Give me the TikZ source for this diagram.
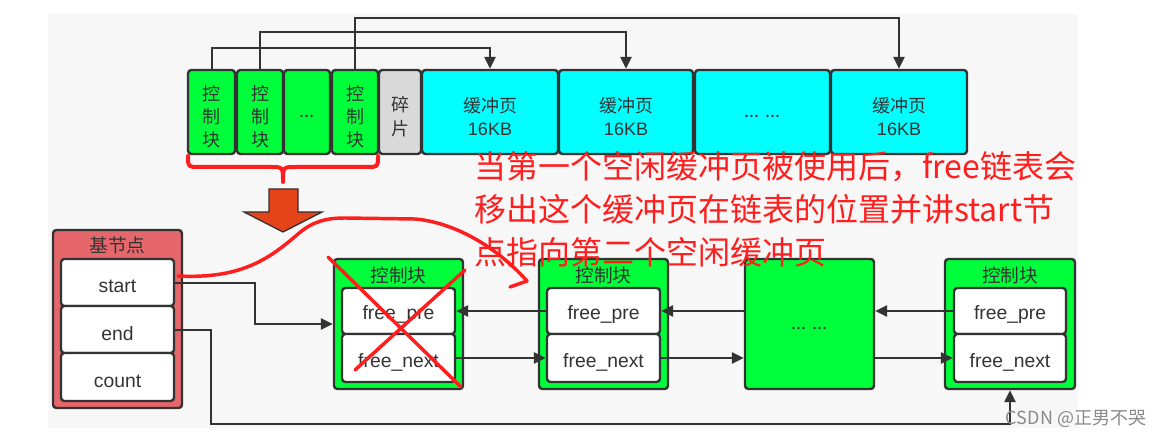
\documentclass[tikz,border=0pt]{standalone}
\usepackage{fontspec}
\setmainfont{Noto Sans CJK SC}
\newfontfamily\lat{Liberation Sans}
\usetikzlibrary{arrows.meta,calc}
\definecolor{bgc}{HTML}{F7F7F7}
\definecolor{gr}{HTML}{00FF3B}
\definecolor{cy}{HTML}{00FFFF}
\definecolor{frag}{HTML}{D9D9D9}
\definecolor{basec}{HTML}{E5676B}
\definecolor{ln}{HTML}{333333}
\definecolor{txt}{HTML}{333333}
\definecolor{ann}{HTML}{FF1E1E}
\definecolor{org}{HTML}{E5441A}
\definecolor{wm}{HTML}{8A8A8A}
\tikzset{
  sz/.style 2 args={minimum width=#1*0.75pt, minimum height=#2*0.75pt},
  blk/.style={draw=ln, line width=1.8pt, rounded corners=2.5pt, inner sep=0pt},
  lbl/.style={inner sep=0pt, align=center, text=txt, font=\fontsize{13.5}{17.4}\selectfont},
  txt/.style={label={[lbl, yshift=-3.5pt]center:{#1}}},
  ftxt/.style={label={[lbl, yshift=-3pt, font=\lat\fontsize{14.5}{17}\selectfont]center:{#1}}},
  field/.style={blk, fill=white},
  ttl/.style={inner sep=0pt, text=txt, font=\fontsize{14}{17}\selectfont},
  arr/.style={draw=ln, line width=1.5pt, -{Triangle[length=9pt,width=8.5pt]}},
  redpen/.style={draw=ann, line width=2.6pt, line cap=round, line join=round},
  anntext/.style={inner sep=0pt, anchor=base west, text=ann, font=\fontsize{24}{30}\selectfont}
}
\begin{document}
\begin{tikzpicture}[x=0.75pt,y=-0.75pt]
\useasboundingbox (0,0) rectangle (1159,438);
\fill[bgc] (48,14) rectangle (1078,428);

% top row
\node[blk, fill=gr, sz={47}{84}, txt={控\\制\\块}] (cb1) at (211.5,112) {};
\node[blk, fill=gr, sz={46}{84}, txt={控\\制\\块}] (cb2) at (260,112) {};
\node[blk, fill=gr, sz={46}{84}, txt={...}] (cbd) at (307,112) {};
\node[blk, fill=gr, sz={46}{84}, txt={控\\制\\块}] (cb4) at (355,112) {};
\node[blk, fill=frag, sz={42}{84}, txt={碎\\片}] (frag) at (400,112) {};
\node[blk, fill=cy, sz={136}{84}, txt={缓冲页\\{\lat 16KB}}] (p1) at (490,112) {};
\node[blk, fill=cy, sz={134}{84}, txt={缓冲页\\{\lat 16KB}}] (p2) at (626,112) {};
\node[blk, fill=cy, sz={135}{84}, txt={... ...}] (pd) at (762.5,112) {};
\node[blk, fill=cy, sz={136}{84}, txt={缓冲页\\{\lat 16KB}}] (p4) at (899,112) {};

\draw[arr] (cb1.north) -- ++(0,-21) -| (p1.north);
\draw[arr] (cb2.north) -- ++(0,-37) -| (p2.north);
\draw[arr] (cb4.north) -- ++(0,-51) -| (p4.north);

% brace
\draw[redpen, line width=3pt] (188,156) .. controls (188,167) .. (199,167) -- (271,167)
  .. controls (283,167) .. (283,182) .. controls (283,167) .. (295,167) -- (367,167)
  .. controls (378,167) .. (378,156);

% block arrow
\draw[draw=ln, line width=1pt, fill=org, line join=miter] (269,189) -- (298,189) -- (298,212) -- (322,212)
  -- (283,232) -- (244,212) -- (269,212) -- cycle;

% base node
\node[blk, fill=basec, sz={129}{178}] (base) at (117.5,319) {};
\node[ttl] (baset) at (117.5,245.5) {基节点};
\node[field, sz={113}{47}, ftxt={start}] (start) at (117.5,282.5) {};
\node[field, sz={113}{47}, ftxt={end}] (endn) at (117.5,329.5) {};
\node[field, sz={113}{48}, ftxt={count}] (count) at (117.5,377) {};

% control blocks
\node[blk, fill=gr, sz={129}{130}] (cbA) at (398.5,324) {};
\node[ttl] (tA) at (398.5,275.5) {控制块};
\node[field, sz={113}{46}, ftxt={free\_pre}] (preA) at (398.5,311) {};
\node[field, sz={113}{48}, ftxt={free\_next}] (nextA) at (398.5,358) {};

\node[blk, fill=gr, sz={129}{130}] (cbB) at (603.5,324) {};
\node[ttl] (tB) at (603.5,275.5) {控制块};
\node[field, sz={113}{46}, ftxt={free\_pre}] (preB) at (603.5,311) {};
\node[field, sz={113}{48}, ftxt={free\_next}] (nextB) at (603.5,358) {};

\node[blk, fill=gr, sz={129}{130}, txt={... ...}] (dots) at (809.5,324) {};

\node[blk, fill=gr, sz={130}{130}] (cbC) at (1010,324) {};
\node[ttl] (tC) at (1010,275.5) {控制块};
\node[field, sz={112}{46}, ftxt={free\_pre}] (preC) at (1010,311) {};
\node[field, sz={112}{48}, ftxt={free\_next}] (nextC) at (1010,358) {};

% links
\draw[arr] (start.east) -- ++(80,0) |- (cbA.west);
\draw[arr] (endn.east) -- ++(36,0) -- ++(0,94.5) -| (cbC.south);
\draw[arr] (preB.west) -- (preA.east);
\draw[arr] (dots.west |- preB.east) -- (preB.east);
\draw[arr] (preC.west) -- (dots.east |- preC.west);
\draw[arr] (nextA.east) -- (nextB.west);
\draw[arr] (nextB.east) -- (dots.west |- nextB.east);
\draw[arr] (dots.east |- nextC.west) -- (nextC.west);

% red annotations
\draw[redpen] (328,257) -- (461,387);
\draw[redpen] (465,270) -- (355,370);
\draw[redpen] (178,276) .. controls (240,279) and (268,260) .. (298,234)
  .. controls (312,222) and (325,218) .. (345,218) -- (415,219)
  .. controls (452,222) and (495,245) .. (527,281) -- (510,287);

\node[anntext] (l1) at (474,179) {当第一个空闲缓冲页被使用后，free链表会};
\node[anntext] (l2) at (474,221.5) {移出这个缓冲页在链表的位置并讲start节};
\node[anntext] (l3) at (474,264) {点指向第二个空闲缓冲页};

\node[inner sep=0pt, text=wm, font=\fontsize{13.5}{16}\selectfont] (wmk) at (1076,419) {CSDN @正男不哭};
\end{tikzpicture}
\end{document}
